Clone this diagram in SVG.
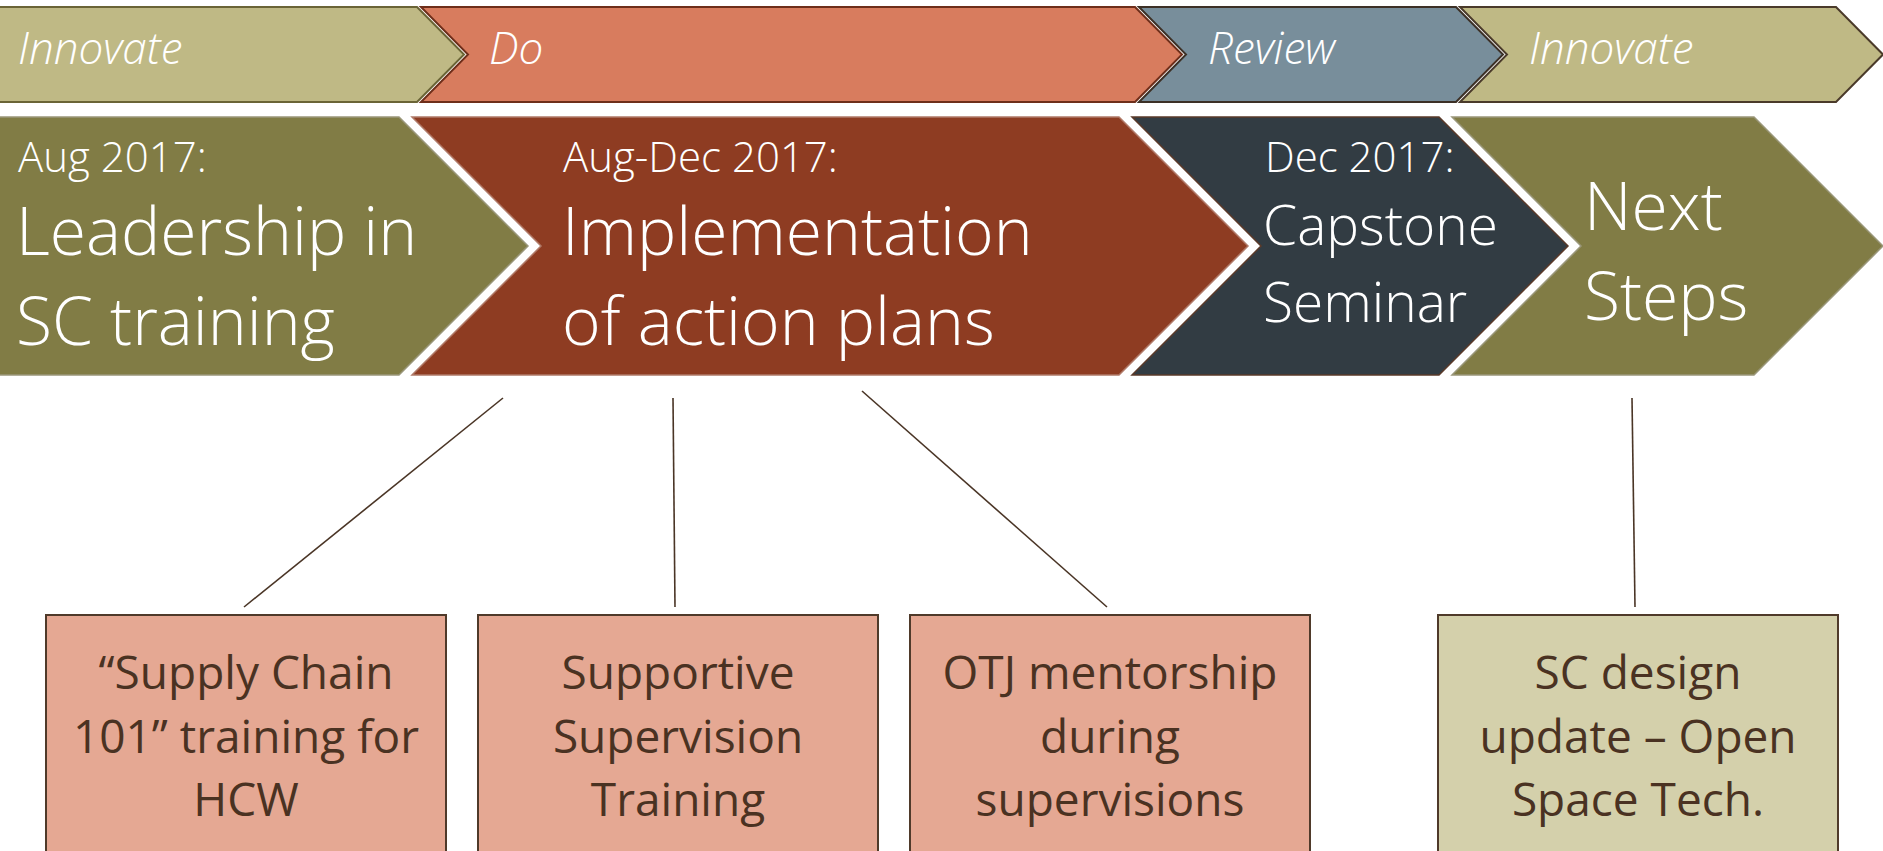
<svg xmlns="http://www.w3.org/2000/svg" width="1883" height="851" viewBox="0 0 1883 851">
  <style>
    .phase { font-family: "Open Sans", "Liberation Sans", sans-serif; font-style: italic; font-weight: 300; font-size: 44px; fill: #ffffff; }
    .date { font-family: "Open Sans", "Liberation Sans", sans-serif; font-weight: 300; font-size: 42px; fill: #ffffff; }
    .title { font-family: "Open Sans", "Liberation Sans", sans-serif; font-weight: 300; font-size: 66px; fill: #ffffff; }
    .title-sm { font-family: "Open Sans", "Liberation Sans", sans-serif; font-weight: 300; font-size: 55px; fill: #ffffff; }
    .box-text { font-family: "Open Sans", "Liberation Sans", sans-serif; font-size: 46px; fill: #4a3222; text-anchor: middle; }
    .box { stroke: #4f3a2a; stroke-width: 2; }
    .link { stroke: #4a3526; stroke-width: 1.6; fill: none; }
  </style>

  <rect width="1883" height="851" fill="#ffffff"/>

  <!-- phase band -->
  <g id="phase-innovate-1">
    <polygon points="-5,7 417,7 464,54.5 417,102 -5,102" fill="#bfb985" stroke="#6a6436" stroke-width="2"/>
    <text class="phase" x="18" y="64">Innovate</text>
  </g>
  <g id="phase-do">
    <polygon points="421,7 1135,7 1182,54.5 1135,102 421,102 468,54.5" fill="#d87c5e" stroke="#6e2e1a" stroke-width="2"/>
    <text class="phase" x="489" y="64">Do</text>
  </g>
  <g id="phase-review">
    <polygon points="1139,7 1456,7 1503,54.5 1456,102 1139,102 1186,54.5" fill="#788e9b" stroke="#3c3026" stroke-width="2"/>
    <text class="phase" x="1208" y="64">Review</text>
  </g>
  <g id="phase-innovate-2">
    <polygon points="1460,7 1836,7 1883,54.5 1836,102 1460,102 1507,54.5" fill="#bfb985" stroke="#4a3a2a" stroke-width="2"/>
    <text class="phase" x="1529" y="64">Innovate</text>
  </g>

  <!-- milestone band -->
  <g id="step-leadership">
    <polygon points="-5,117 399,117 528,246 399,375 -5,375" fill="#817c45" stroke="#9a977a" stroke-width="1.5"/>
    <text class="date" x="18" y="172">Aug 2017:</text>
    <text class="title" x="16" y="255">Leadership in</text>
    <text class="title" x="16" y="345">SC training</text>
  </g>
  <g id="step-implementation">
    <polygon points="412,117 1119,117 1248,246 1119,375 412,375 541,246" fill="#8e3c22" stroke="#b07a68" stroke-width="1.5"/>
    <text class="date" x="563" y="172">Aug-Dec 2017:</text>
    <text class="title" x="562" y="255">Implementation</text>
    <text class="title" x="562" y="345">of action plans</text>
  </g>
  <g id="step-capstone">
    <polygon points="1132,117 1439,117 1568,246 1439,375 1132,375 1261,246" fill="#323c43" stroke="#5a3a2a" stroke-width="1.5"/>
    <text class="date" x="1265" y="172">Dec 2017:</text>
    <text class="title-sm" x="1263" y="245">Capstone</text>
    <text class="title-sm" x="1263" y="322">Seminar</text>
  </g>
  <g id="step-next">
    <polygon points="1452,117 1754,117 1883,246 1754,375 1452,375 1581,246" fill="#817c45" stroke="#9a977a" stroke-width="1.5"/>
    <text class="title" x="1584" y="230">Next</text>
    <text class="title" x="1584" y="320">Steps</text>
  </g>

  <!-- connectors -->
  <g id="connectors">
    <line class="link" x1="503" y1="398" x2="244" y2="607"/>
    <line class="link" x1="673" y1="398" x2="675" y2="607"/>
    <line class="link" x1="862" y1="391" x2="1107" y2="607"/>
    <line class="link" x1="1632" y1="398" x2="1635" y2="607"/>
  </g>

  <!-- activity boxes -->
  <g id="box-sc101">
    <rect class="box" x="46" y="615" width="400" height="260" fill="#e5a893"/>
    <text class="box-text" x="246" y="689">“Supply Chain</text>
    <text class="box-text" x="246" y="753">101” training for</text>
    <text class="box-text" x="246" y="816">HCW</text>
  </g>
  <g id="box-supervision">
    <rect class="box" x="478" y="615" width="400" height="260" fill="#e5a893"/>
    <text class="box-text" x="678" y="689">Supportive</text>
    <text class="box-text" x="678" y="753">Supervision</text>
    <text class="box-text" x="678" y="816">Training</text>
  </g>
  <g id="box-mentorship">
    <rect class="box" x="910" y="615" width="400" height="260" fill="#e5a893"/>
    <text class="box-text" x="1110" y="689">OTJ mentorship</text>
    <text class="box-text" x="1110" y="753">during</text>
    <text class="box-text" x="1110" y="816">supervisions</text>
  </g>
  <g id="box-design">
    <rect class="box" x="1438" y="615" width="400" height="260" fill="#d4d0ab"/>
    <text class="box-text" x="1638" y="689">SC design</text>
    <text class="box-text" x="1638" y="753">update – Open</text>
    <text class="box-text" x="1638" y="816">Space Tech.</text>
  </g>
</svg>
